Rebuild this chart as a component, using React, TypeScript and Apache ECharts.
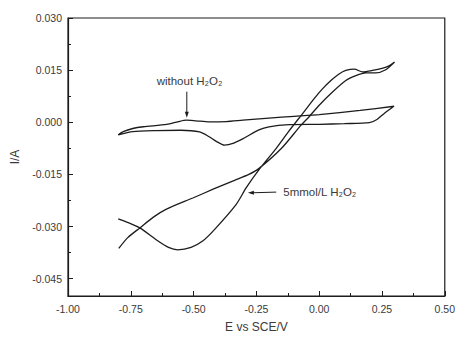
import React, { useEffect, useRef } from "react";
import * as echarts from "echarts";

// x tick settings
const xMin = -1.0;
const xMax = 0.5;
const xInterval = 0.25;

// y ticks (drawn as custom values since the axis runs from -0.05)
const yMin = -0.05;
const yMax = 0.03;
const yMajorTicks = [-0.045, -0.03, -0.015, 0, 0.015, 0.03];
const yMinorTicks = [-0.0375, -0.0225, -0.0075, 0.0075, 0.0225];

// curve without H2O2 (cathodic branch then anodic branch)
const withoutE = [
  0.298, 0.26, 0.23, 0.2, 0.1, 0.0, -0.12, -0.2, -0.24, -0.3, -0.34, -0.377, -0.41, -0.44, -0.476, -0.55,
  -0.65, -0.742, -0.8, -0.78, -0.742, -0.7, -0.607, -0.56, -0.529, -0.49, -0.437, -0.37, -0.304, -0.2, -0.1,
  0.0, 0.163, 0.298,
];
const withoutI = [
  0.0046, 0.0026, 0.0008, -0.0001, -0.0004, -0.0006, -0.0007, -0.0013, -0.0022, -0.0046, -0.006, -0.0066,
  -0.0055, -0.0041, -0.0028, -0.0023, -0.0024, -0.0027, -0.0036, -0.0027, -0.0018, -0.0013, -0.0006, 0.0002,
  0.0006, 0.0004, 0.0001, 0.0002, 0.0006, 0.0012, 0.0017, 0.0022, 0.0034, 0.0046,
];

// curve with 5 mmol/L H2O2
const withE = [
  -0.8, -0.76, -0.714, -0.643, -0.6, -0.563, -0.51, -0.464, -0.417, -0.331, -0.291, -0.238, -0.171, -0.12,
  -0.066, -0.02, 0.013, 0.05, 0.079, 0.106, 0.14, 0.172, 0.212, 0.25, 0.28, 0.3, 0.265, 0.225, 0.185, 0.146,
  0.106, 0.053, 0.0, -0.04, -0.073, -0.15, -0.238, -0.28, -0.337, -0.42, -0.503, -0.608, -0.66, -0.714, -0.762,
  -0.798,
];
const withI = [
  -0.0278, -0.0289, -0.0304, -0.0341, -0.036, -0.0367, -0.036, -0.0342, -0.0309, -0.0237, -0.0189, -0.0135,
  -0.0075, -0.0025, 0.0025, 0.0068, 0.0096, 0.0122, 0.0139, 0.0149, 0.0153, 0.0145, 0.0149, 0.0155, 0.0163,
  0.0173, 0.0151, 0.0142, 0.0142, 0.0134, 0.012, 0.0087, 0.0049, 0.0016, -0.0009, -0.0075, -0.0132, -0.015,
  -0.0167, -0.0192, -0.0218, -0.025, -0.0273, -0.0304, -0.0332, -0.0363,
];

const FONT = "'Liberation Sans', Arial, 'DejaVu Sans', sans-serif";
const INK = "#1c1c1c";
const TXT = "#3a3a3a";

export default function App() {
  const ref = useRef<HTMLDivElement>(null);

  useEffect(() => {
    if (!ref.current) return;
    const chart = echarts.init(ref.current, undefined, { renderer: "svg" });
    const pairs = (xs: number[], ys: number[]) => xs.map((x, i) => [x, ys[i]]);

    chart.setOption({
      animation: false,
      backgroundColor: "#ffffff",
      grid: {
        left: 68,
        right: 12,
        top: 18,
        bottom: 39,
        show: true,
        borderColor: INK,
        borderWidth: 1.2,
        containLabel: false,
      },
      xAxis: {
        type: "value",
        min: xMin,
        max: xMax,
        interval: xInterval,
        name: "E vs SCE/V",
        nameLocation: "middle",
        nameGap: 25,
        nameTextStyle: { fontFamily: FONT, fontSize: 12, color: TXT },
        axisLine: { show: true, onZero: false, lineStyle: { color: INK, width: 1.2 } },
        axisTick: { show: true, inside: true, length: 5, lineStyle: { color: INK } },
        minorTick: { show: true, splitNumber: 2, length: 3, lineStyle: { color: INK } },
        splitLine: { show: false },
        axisLabel: {
          fontFamily: FONT,
          fontSize: 10.5,
          color: TXT,
          margin: 7,
          formatter: (v: number) => v.toFixed(2),
        },
      },
      yAxis: [
        {
          type: "value",
          min: yMin,
          max: yMax,
          name: "I/A",
          nameLocation: "middle",
          nameGap: 47,
          nameTextStyle: { fontFamily: FONT, fontSize: 12, color: TXT },
          axisLine: { show: true, onZero: false, lineStyle: { color: INK, width: 1.2 } },
          axisTick: { show: true, inside: true, length: 5, customValues: yMajorTicks, lineStyle: { color: INK } },
          splitLine: { show: false },
          axisLabel: {
            fontFamily: FONT,
            fontSize: 10.5,
            color: TXT,
            margin: 6,
            customValues: yMajorTicks,
            formatter: (v: number) => v.toFixed(3),
          },
        },
        {
          type: "value",
          min: yMin,
          max: yMax,
          position: "left",
          axisLine: { show: false, onZero: false },
          axisTick: { show: true, inside: true, length: 3, customValues: yMinorTicks, lineStyle: { color: INK } },
          axisLabel: { show: false },
          splitLine: { show: false },
        },
      ],
      series: [
        {
          type: "line",
          name: "without H2O2",
          data: pairs(withoutE, withoutI),
          showSymbol: false,
          symbol: "none",
          smooth: 0.25,
          lineStyle: { color: INK, width: 1.3 },
        },
        {
          type: "line",
          name: "5mmol/L H2O2",
          data: pairs(withE, withI),
          showSymbol: false,
          symbol: "none",
          smooth: 0.25,
          lineStyle: { color: INK, width: 1.3 },
        },
      ],
    });

    const px = (e: number, i: number) => chart.convertToPixel({ xAxisIndex: 0, yAxisIndex: 0 }, [e, i]) as number[];
    const t1 = px(-0.516, 0.0119);
    const a1s = px(-0.527, 0.0088);
    const a1e = px(-0.527, 0.0013);
    const t2 = px(-0.143, -0.0201);
    const a2s = px(-0.171, -0.0201);
    const a2e = px(-0.284, -0.0203);

    chart.setOption({
      graphic: [
        {
          type: "text",
          x: t1[0],
          y: t1[1],
          style: {
            text: "without H\u2082O\u2082",
            fontFamily: FONT,
            fontSize: 11.5,
            fill: TXT,
            align: "center",
            verticalAlign: "middle",
          },
        },
        {
          type: "line",
          shape: { x1: a1s[0], y1: a1s[1], x2: a1e[0], y2: a1e[1] - 4 },
          style: { stroke: INK, lineWidth: 1 },
        },
        {
          type: "polygon",
          shape: {
            points: [
              [a1e[0], a1e[1]],
              [a1e[0] - 2, a1e[1] - 6],
              [a1e[0] + 2, a1e[1] - 6],
            ],
          },
          style: { fill: INK },
        },
        {
          type: "text",
          x: t2[0],
          y: t2[1],
          style: {
            text: "5mmol/L H\u2082O\u2082",
            fontFamily: FONT,
            fontSize: 11.5,
            fill: TXT,
            align: "left",
            verticalAlign: "middle",
          },
        },
        {
          type: "line",
          shape: { x1: a2s[0], y1: a2s[1], x2: a2e[0] + 4, y2: a2e[1] },
          style: { stroke: INK, lineWidth: 1 },
        },
        {
          type: "polygon",
          shape: {
            points: [
              [a2e[0], a2e[1]],
              [a2e[0] + 6, a2e[1] - 2],
              [a2e[0] + 6, a2e[1] + 2],
            ],
          },
          style: { fill: INK },
        },
      ],
    });

    return () => chart.dispose();
  }, []);

  return (
    <div
      ref={ref}
      style={{ position: "fixed", left: 0, top: 0, width: 458, height: 338, background: "#fff" }}
    />
  );
}
